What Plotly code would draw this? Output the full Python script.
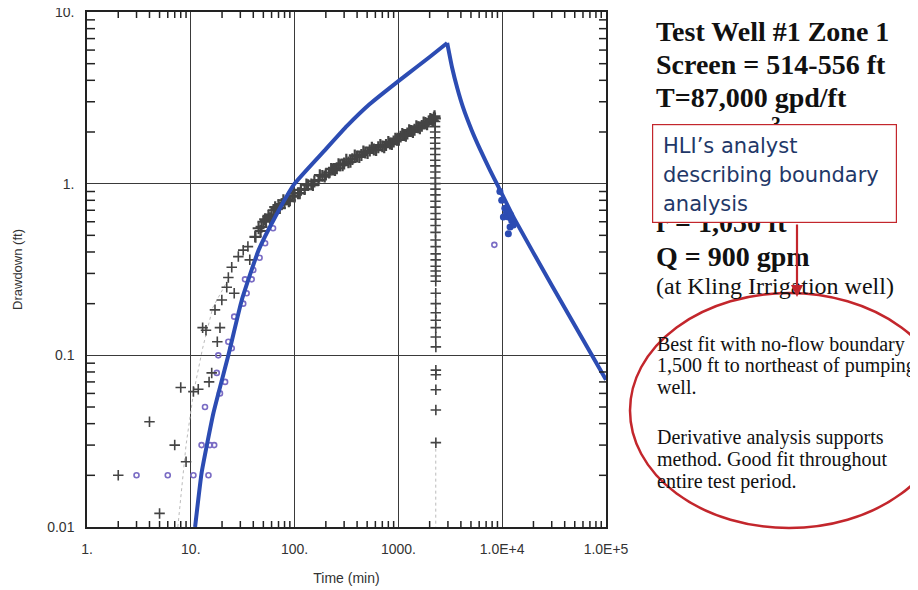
import plotly.graph_objects as go

# ---------------- data ----------------
# fitted type curve (blue thick line): pumping limb and recovery limb
pump_t = [11, 12.7, 16.5, 23, 31, 45, 65, 100, 200, 320, 530, 1000, 1500, 2000, 2950]
pump_s = [0.01, 0.0206, 0.046, 0.1, 0.21, 0.41, 0.64, 1.0, 1.59, 2.17, 2.91, 3.96, 4.78, 5.47, 6.6]
recov_t = [2950, 3280, 3700, 4180, 5080, 6110, 7620, 9100, 13000, 30000, 100000]
recov_s = [6.6, 4.78, 3.58, 2.80, 2.05, 1.59, 1.20, 0.97, 0.63, 0.256, 0.072]

# observed drawdown, early scattered crosses
early_t = [2, 4, 5, 7, 8, 9, 10.6, 11.8, 13, 14, 15, 15.9, 17.1, 18, 19.1, 19.9,
           22.2, 23, 24.8, 26.2, 28.7, 32, 37, 35.5, 41.5]
early_s = [0.020, 0.041, 0.012, 0.030, 0.065, 0.024, 0.0615, 0.0635, 0.145, 0.14,
           0.070, 0.079, 0.184, 0.12, 0.145, 0.21, 0.249, 0.284, 0.326, 0.23,
           0.376, 0.41, 0.36, 0.43, 0.49]

# observed drawdown, dense pumping band
band_t = [42, 45, 48, 50, 53, 56, 60, 63, 67, 70, 75, 80, 85, 90, 95, 100, 108, 115,
          125, 135, 145, 155, 170, 185, 200, 215, 235, 255, 275, 300, 330, 360, 400,
          440, 480, 530, 580, 640, 700, 760, 830, 900, 970, 1050, 1130, 1220, 1320,
          1430, 1550, 1680, 1820, 1960, 2100, 2200, 2250]
band_s = [0.49, 0.55, 0.56, 0.60, 0.61, 0.65, 0.66, 0.70, 0.71, 0.75, 0.76, 0.77,
          0.81, 0.80, 0.85, 0.84, 0.88, 0.92, 0.93, 0.98, 0.99, 1.03, 1.05, 1.11,
          1.13, 1.16, 1.21, 1.23, 1.28, 1.31, 1.33, 1.39, 1.44, 1.47, 1.52, 1.56,
          1.58, 1.63, 1.65, 1.68, 1.71, 1.76, 1.80, 1.88, 1.92, 1.96, 2.03, 2.06,
          2.13, 2.17, 2.26, 2.30, 2.36, 2.42, 2.40]
band2_t = [47, 52, 58, 65, 72, 78, 88, 98, 112, 130, 150, 175, 195, 225, 245, 265,
           290, 315, 345, 380, 420, 460, 505, 555, 610, 670, 730, 800, 865, 935,
           1010, 1090, 1180, 1270, 1380, 1490, 1610, 1750, 1890, 2030, 2150, 2230]
band2_s = [0.53, 0.62, 0.63, 0.73, 0.72, 0.80, 0.79, 0.88, 0.88, 0.99, 0.98, 1.12,
           1.10, 1.22, 1.20, 1.30, 1.28, 1.38, 1.34, 1.46, 1.43, 1.54, 1.51, 1.62,
           1.57, 1.68, 1.63, 1.75, 1.70, 1.83, 1.80, 1.95, 1.90, 2.05, 2.00, 2.16,
           2.10, 2.27, 2.22, 2.38, 2.33, 2.47]

# observed drawdown at the recovery drop
drop_t = [2255, 2255, 2260, 2260, 2260, 2265, 2265, 2265, 2270, 2270, 2270, 2270,
          2275, 2275, 2275, 2275, 2280, 2280, 2280, 2280, 2280, 2285, 2285, 2285,
          2285, 2285, 2290, 2290, 2290, 2290, 2290, 2290, 2290, 2290, 2295, 2295,
          2295, 2295, 2295, 2295]
drop_s = [2.3, 2.15, 2.0, 1.85, 1.72, 1.6, 1.48, 1.37, 1.27, 1.17, 1.08, 1.0, 0.93,
          0.86, 0.79, 0.73, 0.67, 0.62, 0.57, 0.52, 0.47, 0.43, 0.39, 0.36, 0.33,
          0.31, 0.29, 0.27, 0.23, 0.20, 0.177, 0.16, 0.145, 0.128, 0.112, 0.082,
          0.077, 0.063, 0.048, 0.031]

# faint dotted guide lines
dot_t = [7.5, 9.0, 10.6, 13, 16.3, 22.8]
dot_s = [0.01, 0.03, 0.06, 0.11, 0.19, 0.275]
dot2_t = [2290, 2290]
dot2_s = [0.031, 0.008]

# second observation series (purple circles)
circ_t = [3, 6, 10.6, 14.8, 12.7, 15.3, 16.8, 13.7, 19.1, 21.4, 17.8, 18.4, 24.8,
          23, 26.2, 32, 34.5, 33.3, 38.6, 40, 46, 52, 62, 8400]
circ_s = [0.02, 0.02, 0.02, 0.02, 0.03, 0.03, 0.03, 0.05, 0.06, 0.07, 0.079, 0.10,
          0.11, 0.12, 0.168, 0.20, 0.23, 0.277, 0.277, 0.314, 0.37, 0.45, 0.55, 0.44]

# recovery scatter near 1.0E+4
clus_t = [9500, 9890, 10260, 10600, 11000, 11460, 11900, 11460, 12330, 12800, 12000]
clus_s = [0.90, 0.80, 0.64, 0.72, 0.68, 0.64, 0.56, 0.51, 0.61, 0.575, 0.66]

x_tickvals = [1, 10, 100, 1000, 10000, 100000]
x_ticktext = ["1.", "10.", "100.", "1000.", "1.0E+4", "1.0E+5"]
y_tickvals = [0.01, 0.1, 1, 10]
y_ticktext = ["0.01", "0.1", "1.", "10."]
x_minor = [d * 10 ** e for e in range(0, 5) for d in range(2, 10)]
y_minor = [d * 10.0 ** e for e in range(-2, 1) for d in range(2, 10)]

# ---------------- layout helpers ----------------
# page body has an 8px default margin; plot area in window pixels:
OFF = 8
W, H = 918 - OFF, 590 - OFF
L, R, T, B = 87, 606, 12, 527
def PX(px):
    return (px - L) / (R - L)
def PY(py):
    return (B - py) / (B - T)

BLUE = "#2c4cb3"
RED = "#c3262c"
PURPLE = "#7a6cc4"
INK = "#0e1210"
TICK = "#222"

fig = go.Figure()

for xs, ys in ((dot_t, dot_s), (dot2_t, dot2_s)):
    fig.add_trace(go.Scatter(x=xs, y=ys, mode="lines",
                             line=dict(color="#bbbbbb", width=1, dash="dot"),
                             showlegend=False, hoverinfo="skip"))

fig.add_trace(go.Scatter(x=circ_t, y=circ_s, mode="markers",
                         marker=dict(symbol="circle-open", size=5, color=PURPLE,
                                     line=dict(width=1.6)),
                         showlegend=False))

fig.add_trace(go.Scatter(x=early_t + drop_t, y=early_s + drop_s,
                         mode="markers",
                         marker=dict(symbol="cross-thin", size=7.5, color=INK,
                                     line=dict(width=1.6)),
                         showlegend=False))
fig.add_trace(go.Scatter(x=band_t + band2_t, y=band_s + band2_s,
                         mode="markers",
                         marker=dict(symbol="cross-thin", size=8.5, color=INK,
                                     line=dict(width=2.2)),
                         showlegend=False))

for xs, ys in ((pump_t, pump_s), (recov_t, recov_s)):
    fig.add_trace(go.Scatter(x=xs, y=ys, mode="lines",
                             line=dict(color=BLUE, width=4, shape="spline", smoothing=0.4),
                             showlegend=False))
fig.add_trace(go.Scatter(x=clus_t, y=clus_s, mode="markers",
                         marker=dict(symbol="circle", size=7, color=BLUE),
                         showlegend=False))

label_font = dict(family="Liberation Sans, Arial, sans-serif", size=14, color="#333")
axis_common = dict(
    showline=True, linecolor="#222", linewidth=1.5, mirror=True,
    showgrid=True, gridcolor="#3a3a3a", gridwidth=1,
    ticks="", tickfont=label_font, automargin=False, ticklabeloverflow="allow",
    zeroline=False,
)

fig.update_layout(
    xaxis=dict(type="log", range=[0, 5], tickmode="array",
               tickvals=x_tickvals, ticktext=x_ticktext, ticklabelstandoff=8,
               title=dict(text="Time (min)", standoff=18,
                          font=dict(family="Liberation Sans, Arial, sans-serif", size=14, color="#333")),
               **axis_common),
    yaxis=dict(type="log", range=[-2, 1], tickmode="array",
               tickvals=y_tickvals, ticktext=y_ticktext, ticklabelstandoff=8,
               title=dict(text="Drawdown (ft)", standoff=22,
                          font=dict(family="Liberation Sans, Arial, sans-serif", size=13, color="#333")),
               **axis_common),
)

# minor tick marks on all four sides, placed through the axis scales
shapes = []
for v in x_minor:
    for anchor, a, b in ((0, 0, 6), (1, -6, 0)):
        shapes.append(dict(type="line", xref="x", yref="paper", x0=v, x1=v,
                           ysizemode="pixel", yanchor=anchor, y0=a, y1=b,
                           line=dict(color=TICK, width=1.5), layer="above"))
for v in y_minor:
    for anchor, a, b in ((0, 0, 8), (1, -7, 0)):
        shapes.append(dict(type="line", yref="y", xref="paper", y0=v, y1=v,
                           xsizemode="pixel", xanchor=anchor, x0=a, x1=b,
                           line=dict(color=TICK, width=1.5), layer="above"))

serif = "Liberation Serif, Times New Roman, serif"
sans = "DejaVu Sans, Verdana, sans-serif"
ann = []
def txt(text, px, py, size, bold=False, family=serif, color="#111"):
    ann.append(dict(x=PX(px), y=PY(py), xref="paper", yref="paper", xanchor="left",
                    yanchor="middle", showarrow=False, align="left",
                    text=("<b>%s</b>" % text) if bold else text,
                    font=dict(family=family, size=size, color=color)))

txt("Test Well #1 Zone 1", 654, 31, 28, bold=True)
txt("Screen = 514-556 ft", 654, 64, 28, bold=True)
txt("T=87,000 gpd/ft", 654, 97, 28, bold=True)
txt("S=1.0x10<sup>-3</sup>", 654, 130, 28, bold=True)
txt("r = 1,050 ft", 654, 222, 28, bold=True)
txt("Q = 900 gpm", 654, 256, 28, bold=True)
txt("(at Kling Irrigation well)", 654, 286, 24)

for i, line in enumerate(["Best fit with no-flow boundary",
                          "1,500 ft to northeast of pumping",
                          "well."]):
    txt(line, 655, 344 + 21.7 * i, 20)
for i, line in enumerate(["Derivative analysis supports",
                          "method. Good fit throughout",
                          "entire test period."]):
    txt(line, 655, 438 + 21.7 * i, 20)

# callout box (drawn after the texts it covers), then its text
ann.append(dict(x=PX(652), y=PY(124), xref="paper", yref="paper", xanchor="left",
                yanchor="top", showarrow=False, text=" ",
                width=243, height=97, borderpad=0, borderwidth=1.2,
                bordercolor=RED, bgcolor="white",
                font=dict(family=sans, size=10)))
for i, line in enumerate(["HLI’s analyst", "describing boundary", "analysis"]):
    txt(line, 661, 146 + 29 * i, 21, family=sans, color="#1f3868")

# red arrow from the box down to the ellipse
ann.append(dict(x=PX(797), y=PY(297), xref="paper", yref="paper",
                ax=0, ay=-74, axref="pixel", ayref="pixel", text="",
                showarrow=True, arrowhead=2, arrowsize=1.1, arrowwidth=2.2,
                arrowcolor=RED))

shapes.append(dict(type="circle", xref="paper", yref="paper",
                   x0=PX(630), x1=PX(948), y0=PY(528), y1=PY(293),
                   line=dict(color=RED, width=2.5), layer="above"))

fig.update_layout(
    width=W, height=H,
    margin=dict(l=L - OFF, r=W - (R - OFF), t=T - OFF, b=H - (B - OFF)),
    paper_bgcolor="white", plot_bgcolor="white",
    annotations=ann,
    shapes=shapes,
)

fig.write_html("out.html")
